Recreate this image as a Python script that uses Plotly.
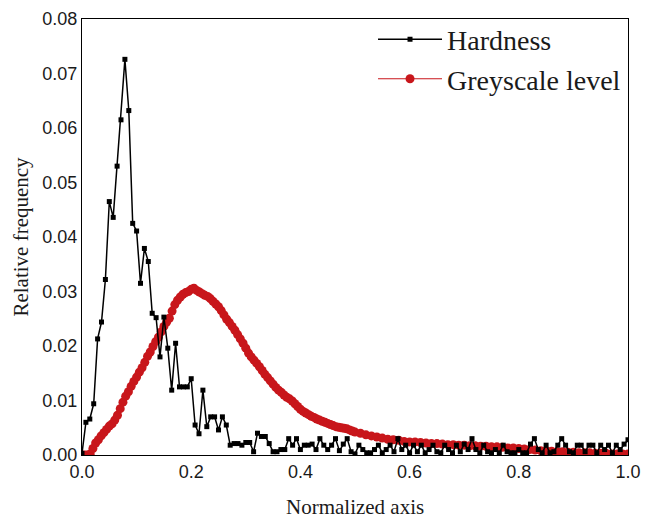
import numpy as np
import plotly.graph_objects as go

# Hardness histogram (bin centres k/140)
hard_x = [k / 140 for k in range(141)]
hard_y = [
    0.0003, 0.0060, 0.0066, 0.0094, 0.0213, 0.0244, 0.0322, 0.0465, 0.0436, 0.0530,
    0.0615, 0.0726, 0.0632, 0.0425, 0.0411, 0.0315, 0.0379, 0.0355, 0.0260, 0.0252,
    0.0180, 0.0253, 0.0196, 0.0119, 0.0205, 0.0125, 0.0125, 0.0125, 0.0140, 0.0055,
    0.0039, 0.0119, 0.0052, 0.0070, 0.0070, 0.0046, 0.0070, 0.0055, 0.0018, 0.0021,
    0.0021, 0.0018, 0.0023, 0.0023, 0.0006, 0.0040, 0.0034, 0.0034, 0.0021, 0.0006,
    0.0006, 0.0010, 0.0010, 0.0030, 0.0018, 0.0030, 0.0010, 0.0018, 0.0018, 0.0020,
    0.0010, 0.0030, 0.0018, 0.0010, 0.0018, 0.0030, 0.0008, 0.0020, 0.0030, 0.0006,
    0.0002, 0.0018, 0.0010, 0.0004, 0.0004, 0.0010, 0.0018, 0.0004, 0.0010, 0.0018,
    0.0006, 0.0030, 0.0010, 0.0018, 0.0004, 0.0018, 0.0006, 0.0018, 0.0004, 0.0010,
    0.0018, 0.0006, 0.0004, 0.0018, 0.0010, 0.0004, 0.0018, 0.0006, 0.0020, 0.0010,
    0.0030, 0.0010, 0.0004, 0.0018, 0.0006, 0.0004, 0.0010, 0.0004, 0.0018, 0.0006,
    0.0004, 0.0004, 0.0010, 0.0004, 0.0004, 0.0020, 0.0030, 0.0010, 0.0004, 0.0018,
    0.0004, 0.0006, 0.0018, 0.0030, 0.0018, 0.0006, 0.0004, 0.0018, 0.0018, 0.0006,
    0.0018, 0.0018, 0.0004, 0.0018, 0.0010, 0.0018, 0.0004, 0.0018, 0.0010, 0.0020,
    0.0028,
]

# Greyscale level histogram
grey_x = [k / 200 for k in range(101)] + [0.5 + k / 100 for k in range(1, 51)]
grey_y = [
    0.0000, 0.0000, 0.0000, 0.0002, 0.0012, 0.0022, 0.0028, 0.0035, 0.0041, 0.0047,
    0.0053, 0.0057, 0.0064, 0.0073, 0.0085, 0.0097, 0.0108, 0.0116, 0.0126, 0.0135,
    0.0143, 0.0152, 0.0160, 0.0170, 0.0181, 0.0189, 0.0199, 0.0208, 0.0216, 0.0226,
    0.0236, 0.0244, 0.0251, 0.0264, 0.0276, 0.0284, 0.0290, 0.0295, 0.0298, 0.0300,
    0.0304, 0.0306, 0.0302, 0.0299, 0.0296, 0.0293, 0.0291, 0.0287, 0.0282, 0.0277,
    0.0272, 0.0265, 0.0257, 0.0249, 0.0243, 0.0236, 0.0229, 0.0221, 0.0213, 0.0205,
    0.0196, 0.0187, 0.0180, 0.0174, 0.0168, 0.0162, 0.0155, 0.0148, 0.0142, 0.0136,
    0.0130, 0.0124, 0.0119, 0.0115, 0.0110, 0.0106, 0.0103, 0.0099, 0.0094, 0.0089,
    0.0084, 0.0080, 0.0077, 0.0074, 0.0071, 0.0069, 0.0066, 0.0064, 0.0062, 0.0060,
    0.0058, 0.0056, 0.0054, 0.0052, 0.0051, 0.0050, 0.0049, 0.0048, 0.0046, 0.0044,
    0.0042,
    0.0040, 0.0037, 0.0035, 0.0033, 0.0031, 0.0029, 0.0028, 0.0027, 0.0025, 0.0024,
    0.0024, 0.0023, 0.0022, 0.0021, 0.0021, 0.0020, 0.0019, 0.0019, 0.0018, 0.0018,
    0.0017, 0.0017, 0.0016, 0.0016, 0.0015, 0.0015, 0.0014, 0.0013, 0.0013, 0.0012,
    0.0011, 0.0010, 0.0009, 0.0008, 0.0008, 0.0007, 0.0006, 0.0006, 0.0005, 0.0005,
    0.0004, 0.0004, 0.0004, 0.0003, 0.0003, 0.0003, 0.0002, 0.0002, 0.0002, 0.0002,
]

x_ticks = [0.0, 0.2, 0.4, 0.6, 0.8, 1.0]
y_ticks = [0.00, 0.01, 0.02, 0.03, 0.04, 0.05, 0.06, 0.07, 0.08]

RED = "#c8161b"
serif = "Liberation Serif, Times New Roman, serif"
sans = "Liberation Sans, Arial, sans-serif"

fig = go.Figure()
fig.add_trace(go.Scatter(
    x=grey_x, y=grey_y, mode="lines+markers", name="Greyscale level",
    line=dict(color=RED, width=1.2),
    marker=dict(symbol="circle", size=9, color=RED),
))
fig.add_trace(go.Scatter(
    x=hard_x, y=hard_y, mode="lines+markers", name="Hardness",
    line=dict(color="black", width=1.5),
    marker=dict(symbol="square", size=5, color="black"),
))

axis_common = dict(
    showline=True, linecolor="black", linewidth=1, mirror=True,
    showgrid=False, zeroline=False, ticks="", automargin=False,
    tickfont=dict(family=sans, size=18, color="#1a1a1a"),
)
fig.update_xaxes(range=[0, 1], tickvals=x_ticks, tickformat=".1f", **axis_common)
fig.update_yaxes(range=[0, 0.08], tickvals=y_ticks, tickformat=".2f",
                 title=dict(text="Relative frequency", font=dict(family=serif, size=21, color="#1a1a1a"), standoff=8),
                 **axis_common)

fig.add_annotation(
    text="Normalized axis", xref="paper", yref="paper", x=0.5, y=0,
    xanchor="center", yanchor="top", yshift=-38, showarrow=False,
    font=dict(family=serif, size=21, color="#1a1a1a"),
)

fig.update_layout(
    width=659, height=520,
    margin=dict(l=82, r=31, t=19, b=65),
    paper_bgcolor="white", plot_bgcolor="white",
    showlegend=True,
    legend=dict(
        x=0.533, y=1.01, xanchor="left", yanchor="top",
        traceorder="reversed", itemwidth=64,
        bgcolor="rgba(0,0,0,0)",
        font=dict(family=serif, size=28, color="#1a1a1a"),
        tracegroupgap=0,
    ),
)

fig.write_html("out.html")
